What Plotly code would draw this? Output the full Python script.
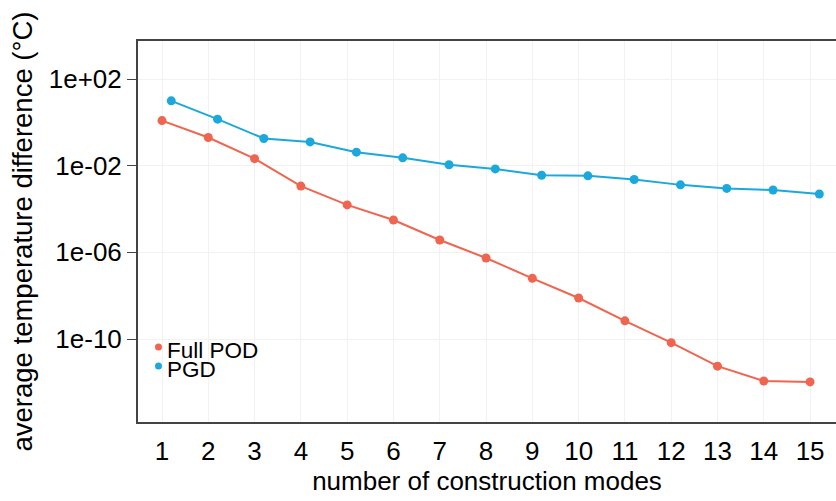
import plotly.graph_objects as go

modes = list(range(1, 16))
full_pod = [1.2, 0.2, 0.021, 1.14e-3, 1.55e-4, 3.1e-5, 3.7e-6, 5.5e-7, 6.3e-8,
            7.8e-9, 6.9e-10, 6.8e-11, 5.6e-12, 1.15e-12, 1.05e-12]
pgd = [9.8, 1.4, 0.18, 0.125, 0.042, 0.023, 0.011, 0.0071, 0.0036,
       0.0034, 0.0023, 0.0013, 0.00089, 0.00075, 0.00049]
series_names = ["Full POD", "PGD"]
y_tickvals = [1e2, 1e-2, 1e-6, 1e-10]
y_ticktext = ["1e+02", "1e-02", "1e-06", "1e-10"]

RED = "#F0654F"
BLUE = "#1BA8DC"
FONT = "Liberation Sans, Arial, sans-serif"
dodge = 0.2

fig = go.Figure()
fig.add_trace(go.Scatter(x=modes, y=full_pod, mode="lines+markers", name=series_names[0],
                         line=dict(color=RED, width=2), marker=dict(color=RED, size=9)))
fig.add_trace(go.Scatter(x=[m + dodge for m in modes], y=pgd, mode="lines+markers", name=series_names[1],
                         line=dict(color=BLUE, width=2), marker=dict(color=BLUE, size=9)))

W, H = 836, 501
L, R, T, B = 138, 0, 41, 79
pw, ph = W - L - R, H - T - B

def px(xp):
    return (xp - L) / pw

def py(yp):
    return (H - B - yp) / ph

# legend drawn manually (tight spacing)
for name, col, ydot, ytxt in [(series_names[0], RED, 347, 350), (series_names[1], BLUE, 366, 369)]:
    fig.add_shape(type="circle", xref="paper", yref="paper",
                  x0=px(155), x1=px(162), y0=py(ydot + 3.5), y1=py(ydot - 3.5),
                  fillcolor=col, line=dict(width=0))
    fig.add_annotation(xref="paper", yref="paper", x=px(165), y=py(ytxt), text=name,
                       showarrow=False, xanchor="left", yanchor="middle",
                       font=dict(size=22.5, color="black", family=FONT))

fig.update_layout(
    width=W, height=H,
    margin=dict(l=L, r=R, t=T, b=B, pad=0),
    paper_bgcolor="white", plot_bgcolor="white",
    showlegend=False,
    font=dict(family=FONT, size=26, color="black"),
)
fig.update_xaxes(
    range=[0.4815, 15.56], tickvals=modes, ticks="", ticklabelstandoff=5,
    showline=True, linecolor="#444444", linewidth=2, mirror=True,
    showgrid=True, gridcolor="#f2f2f2", gridwidth=1, zeroline=False,
    title=dict(text="number of construction modes", standoff=6, font=dict(size=26)),
    tickfont=dict(size=26),
)
fig.update_yaxes(
    type="log", range=[-13.83, 3.754], tickvals=y_tickvals, ticktext=y_ticktext,
    ticks="outside", ticklen=9, tickcolor="#444444", tickwidth=1,
    showline=True, linecolor="#444444", linewidth=2, mirror=False,
    showgrid=True, gridcolor="#f2f2f2", gridwidth=1, zeroline=False,
    title=dict(text="average temperature difference (°C)", standoff=8, font=dict(size=27.5)),
    tickfont=dict(size=26),
)

fig.write_html("out.html")
